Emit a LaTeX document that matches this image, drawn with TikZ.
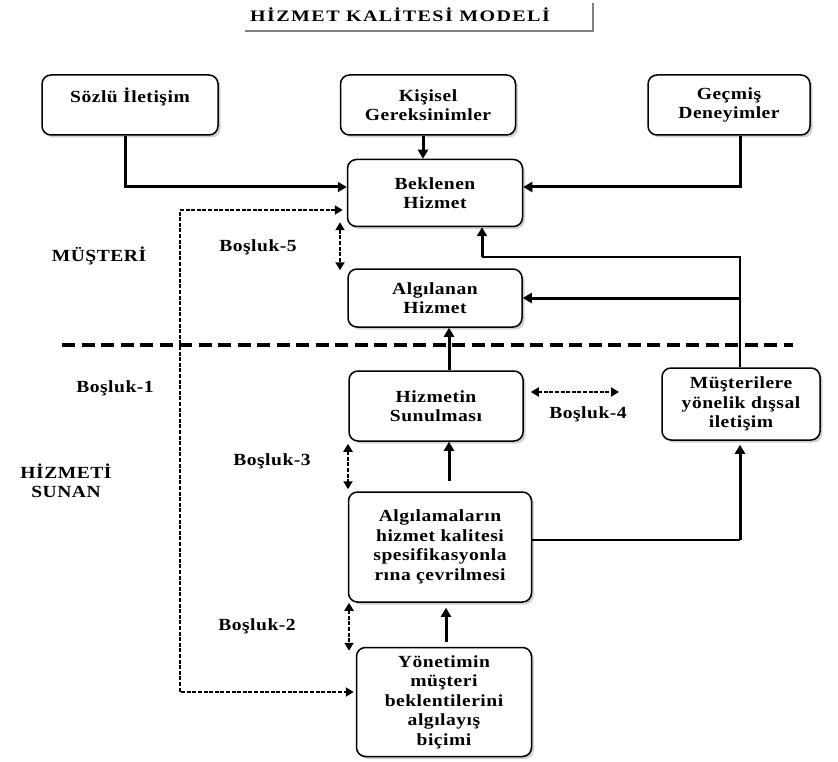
\documentclass[tikz,border=0pt]{standalone}
\usepackage{fontspec}
\setmainfont{Liberation Serif}[FakeStretch=1.15, LetterSpace=3]
\newfontfamily\titlefont{Liberation Serif}[FakeStretch=1.25, LetterSpace=9]
\usetikzlibrary{arrows.meta, positioning, calc, shadows}
\tikzset{
	box/.style={rectangle, draw, line width=1.5pt, rounded corners=9pt, fill=white, align=center, inner sep=0pt,
		drop shadow={shadow xshift=2.5pt, shadow yshift=-2.5pt, fill=gray!70},
		font=\bfseries\fontsize{17}{19.5}\selectfont},
	lbl/.style={font=\bfseries\fontsize{17}{19.5}\selectfont, align=center},
	arr/.style={draw, line width=3pt, -{Triangle[length=9pt, width=10pt]}},
	thinline/.style={draw, line width=1.1pt},
	gaparr/.style={draw, line width=2.8pt, dash pattern=on 4pt off 1.6pt, {Triangle[length=8pt, width=9pt]}-{Triangle[length=8pt, width=9pt]}},
	separator/.style={draw, line width=4pt, dash pattern=on 13pt off 6.5pt}
}

\begin{document}
\begin{tikzpicture}[x=1pt, y=-1pt]
	\useasboundingbox (0,0) rectangle (838,762);
	
	% Title with its shadow lines
	\node[minimum width=348pt, minimum height=28pt, inner sep=0pt] (title) at (419,17) {};
	\node[font=\titlefont\bfseries\fontsize{16}{18}\selectfont] (titletext) at (400,15) {HİZMET KALİTESİ MODELİ};
	\draw[gray, line width=2.5pt] (title.north east) -- (title.south east) -- (title.south west);
	
	% Customer side boxes
	\node[box, minimum width=176pt, minimum height=60pt] (sozlu) at (130,105) {Sözlü İletişim\\\mbox{}};
	\node[box, minimum width=175pt, minimum height=60pt] (kisisel) at (428,105) {Kişisel\\Gereksinimler};
	\node[box, minimum width=162pt, minimum height=60pt] (gecmis) at (729,105) {Geçmiş\\Deneyimler};
	\node[box, minimum width=175pt, minimum height=67pt] (beklenen) at (435,193) {Beklenen\\Hizmet};
	\node[box, minimum width=174pt, minimum height=58pt] (algilanan) at (435,298) {Algılanan\\Hizmet};
	
	% Provider side boxes
	\node[box, minimum width=174pt, minimum height=70pt] (hizmetin) at (436,406) {Hizmetin\\Sunulması};
	\node[box, minimum width=158pt, minimum height=72pt] (musteri) at (741,404) {Müşterilere\\yönelik dışsal\\iletişim};
	\node[box, minimum width=183pt, minimum height=110pt] (algila) at (440,547) {Algılamaların\\hizmet kalitesi\\spesifikasyonla\\rına çevrilmesi};
	\node[box, minimum width=175pt, minimum height=109pt] (yonetim) at (444,702) {Yönetimin\\müşteri\\beklentilerini\\algılayış\\biçimi};
	
	% Side labels
	\node[lbl] (musterilbl) at (99,256) {MÜŞTERİ};
	\node[lbl] (sunanlbl) at (66,481) {HİZMETİ\\SUNAN};
	\node[lbl] (gap1lbl) at (115,388) {Boşluk-1};
	\node[lbl] (gap2lbl) at (257,626) {Boşluk-2};
	\node[lbl] (gap3lbl) at (272,461) {Boşluk-3};
	\node[lbl] (gap4lbl) at (588,414) {Boşluk-4};
	\node[lbl] (gap5lbl) at (258,247) {Boşluk-5};
	
	% Turning points
	\coordinate (fbturn) at (482,257);
	\coordinate (specturn) at (740,540);
	\coordinate (gap1x) at (180,450);
	\coordinate (gap4end) at (619,392);
	\coordinate (sepleft) at (62,345);
	\coordinate (sepright) at (793,345);
	
	% Dashed border between customer and provider
	\path[separator] (sepleft) -- (sepright);
	
	% Solid connectors
	\path[arr] ([xshift=-5pt]sozlu.south) |- ([yshift=6pt]beklenen.west);
	\path[arr] ([xshift=-5pt]kisisel.south) -- ([xshift=-5pt]kisisel.south |- beklenen.north);
	\path[arr] ([xshift=11pt]gecmis.south) |- ([yshift=6pt]beklenen.east);
	\path[thinline] ([xshift=-1pt]musteri.north) |- (fbturn);
	\path[arr] (fbturn) -- (fbturn |- beklenen.south);
	\path[arr] ([xshift=-1pt]musteri.north |- algilanan.east) -- (algilanan.east);
	\path[arr] ([xshift=13pt]hizmetin.north) -- ([xshift=13pt]hizmetin.north |- algilanan.south);
	\path[arr, shorten <=10pt] ([xshift=9pt]algila.north) -- ([xshift=9pt]algila.north |- hizmetin.south);
	\path[arr, shorten <=5pt, shorten >=5pt] ([xshift=2pt]yonetim.north) -- ([xshift=2pt]yonetim.north |- algila.south);
	\path[thinline] ([yshift=7pt]algila.east) -- (specturn);
	\path[arr, shorten >=4pt] (specturn) -- (specturn |- musteri.south);
	
	% Gaps
	\path[gaparr, shorten >=2pt, shorten <=4pt] ([yshift=-17pt]beklenen.west) -| (gap1x) |- ([yshift=10pt]yonetim.west);
	\path[gaparr] ([xshift=-95pt, yshift=5pt]beklenen.south) -- ([xshift=-95pt, yshift=-2pt]algilanan.north);
	\path[gaparr] ([xshift=-88pt, yshift=-2pt]hizmetin.south) -- ([xshift=-88pt, yshift=2pt]hizmetin.south |- algila.north);
	\path[gaparr] ([xshift=-91pt]algila.south) -- ([xshift=-91pt, yshift=-4pt]algila.south |- yonetim.north);
	\path[gaparr] ([xshift=7pt, yshift=14pt]hizmetin.east) -- (gap4end);
\end{tikzpicture}
\end{document}
